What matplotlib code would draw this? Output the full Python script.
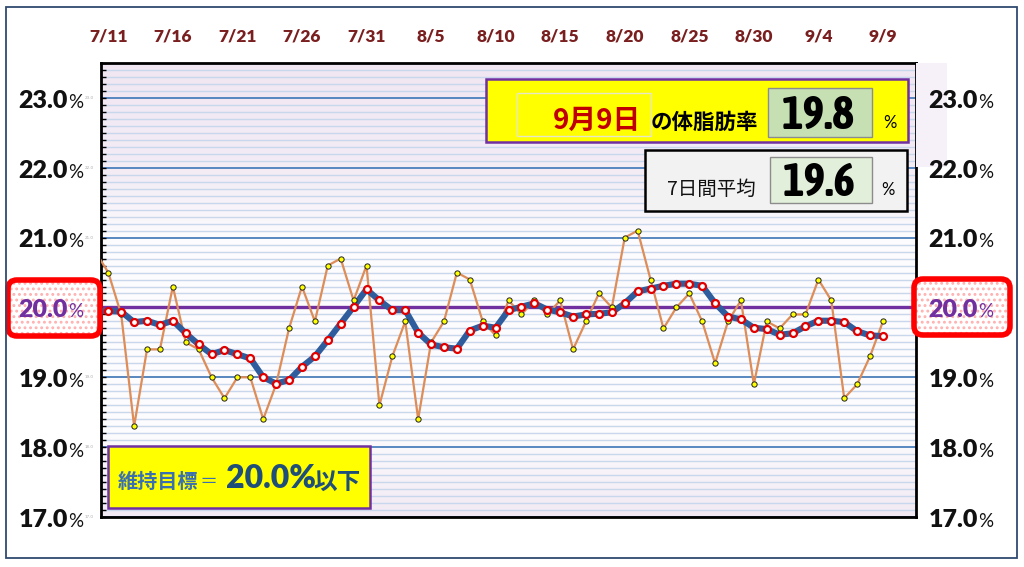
import matplotlib
matplotlib.use('Agg')
import matplotlib.pyplot as plt
import matplotlib.transforms as mtransforms
from matplotlib.patches import Rectangle, FancyBboxPatch
from matplotlib import font_manager as fm
import numpy as np
import pandas as pd

# ---------------- data ----------------
dates = [f"{d.month}/{d.day}" for d in pd.date_range('2023-07-10', '2023-09-09')]
daily = [20.8,
         20.5, 19.9, 18.3, 19.4, 19.4, 20.3, 19.5, 19.4, 19.0, 18.7,
         19.0, 19.0, 18.4, 18.9, 19.7, 20.3, 19.8, 20.6, 20.7, 20.1,
         20.6, 18.6, 19.3, 19.8, 18.4, 19.5, 19.8, 20.5, 20.4, 19.8,
         19.6, 20.1, 19.9, 20.1, 19.9, 20.1, 19.4, 19.8, 20.2, 20.0,
         21.0, 21.1, 20.4, 19.7, 20.0, 20.2, 19.8, 19.2, 19.8, 20.1,
         18.9, 19.8, 19.7, 19.9, 19.9, 20.4, 20.1, 18.7, 18.9, 19.3,
         19.8]
avg7 = [19.95,
        19.95, 19.94, 19.79, 19.81, 19.75, 19.81, 19.63, 19.47, 19.33, 19.39,
        19.33, 19.27, 19.00, 18.91, 18.96, 19.15, 19.30, 19.53, 19.77, 20.01,
        20.26, 20.10, 19.96, 19.96, 19.64, 19.47, 19.43, 19.41, 19.67, 19.74,
        19.71, 19.96, 20.01, 20.06, 19.97, 19.93, 19.87, 19.90, 19.91, 19.93,
        20.06, 20.23, 20.27, 20.31, 20.34, 20.34, 20.31, 20.06, 19.87, 19.83,
        19.71, 19.69, 19.61, 19.63, 19.73, 19.81, 19.81, 19.79, 19.66, 19.60,
        19.59]
tick_labels = ['7/11', '7/16', '7/21', '7/26', '7/31', '8/5', '8/10',
               '8/15', '8/20', '8/25', '8/30', '9/4', '9/9']
y_ticks = [17.0, 18.0, 19.0, 20.0, 21.0, 22.0, 23.0]
target = 20.0
last_date = '9月9日'
last_value = '19.8'
last_avg = '19.6'

# ---------------- fonts ----------------
LAT = ['Lato', 'DejaVu Sans']
CJK = ['Noto Sans CJK JP', 'DejaVu Sans']


def pick_narrow():
    cands = []
    for f in fm.fontManager.ttflist:
        nm = f.name + ' ' + str(f.fname)
        if 'DejaVu' in nm:
            continue
        if 'ExtraCondensed' in nm or 'Extra Condensed' in nm:
            srank = 1
        elif 'SemiCondensed' in nm or 'Semi Condensed' in nm:
            srank = 2
        elif 'Condensed' in nm or 'Narrow' in nm or str(f.stretch) == 'condensed':
            srank = 0
        else:
            continue
        w = f.weight if isinstance(f.weight, (int, float)) else fm.weight_dict.get(f.weight, 400)
        cands.append((f.style != 'normal', 'Mono' in nm, 'Serif' in nm,
                      abs(w - 700), srank, f.fname))
    if cands:
        cands.sort()
        return fm.FontProperties(fname=cands[0][-1])
    return fm.FontProperties(family=['Liberation Sans', 'DejaVu Sans'], weight='bold')


NARROW_FP = pick_narrow()

# ---------------- figure ----------------
W, H = 1024, 567
fig = plt.figure(figsize=(W / 100, H / 100), dpi=100)
fig.patch.set_facecolor('white')
T = fig.dpi_scale_trans
plt.rcParams['hatch.linewidth'] = 1.3
renderer = fig.canvas.get_renderer()


def ix(px):
    return px / 100.0


def iy(py):
    return (H - py) / 100.0


ax = fig.add_axes([101 / W, 1 - 517 / H, (916 - 101) / W, (517 - 63) / H])
x = np.arange(len(daily))
ax.set_xlim(0.435, 63.56)
ax.set_ylim(17.0, 23.5)

# background gradient (lavender top / bottom)
stops_v = [17.0, 18.2, 21.0, 21.8, 23.5]
stops_c = [(0.945, 0.915, 0.955), (0.99, 0.985, 0.993), (0.99, 0.985, 0.993),
           (0.955, 0.93, 0.965), (0.942, 0.905, 0.952)]
vv = np.linspace(17.0, 23.5, 300)
grad = np.stack([np.interp(vv, stops_v, [c[k] for c in stops_c]) for k in range(3)], axis=-1)
ax.imshow(grad[:, None, :], extent=[0.435, 63.56, 17.0, 23.5], origin='lower',
          aspect='auto', zorder=0, interpolation='bilinear')

# gridlines
for v in np.arange(17.0, 23.51, 0.1):
    if abs(v - round(v)) < 1e-6:
        continue
    ax.axhline(v, color='#c8d7ec', lw=1.0, zorder=1)
for v in y_ticks:
    ax.axhline(v, color='#4a7ebb', lw=1.3, zorder=1)
ax.axhline(target, color='#7030a0', lw=2.4, zorder=2)

# series
ax.plot(x, daily, color='#de8c58', lw=1.6, zorder=3, solid_joinstyle='round')
ax.plot(x, avg7, color='#2e5c9c', lw=4.4, zorder=4, solid_joinstyle='round')
ax.plot(x, daily, ls='none', marker='o', ms=3.8, mfc='#ffff00', mec='#222222',
        mew=0.7, zorder=5)
ax.plot(x, avg7, ls='none', marker='o', ms=5.0, mfc='white', mec='#e00000',
        mew=1.6, zorder=6)

# axes styling
tick_pos = [dates.index(t) for t in tick_labels]
ax.set_xticks(tick_pos)
ax.set_xticklabels(tick_labels)
ax.xaxis.set_ticks_position('top')
ax.tick_params(axis='x', length=0, pad=13, labelsize=12.5, labelcolor='#7a1f1f')
for lab in ax.get_xticklabels():
    lab.set_fontfamily(LAT)
    lab.set_fontweight('heavy')
ax.set_yticks(y_ticks)
ax.set_yticks(np.arange(17.0, 23.51, 0.1), minor=True)
ax.yaxis.set_ticks_position('left')
ax.tick_params(axis='y', which='both', direction='in', length=3.5, width=1.0,
               labelleft=False, color='black')
for s in ax.spines.values():
    s.set_color('black')
    s.set_linewidth(2.0)

# lavender patch right of plot
fig.add_artist(Rectangle((ix(916), iy(167)), ix(947) - ix(916), (167 - 63) / 100,
                         transform=T, facecolor='#f6f0f8', edgecolor='none', zorder=0.5))

# y labels on both sides
btr = mtransforms.blended_transform_factory(T, ax.transData)
for v in y_ticks:
    col = '#7030a0' if v == target else '#111111'
    num = f"{v:.1f}"
    if v != target:
        fig.text(ix(94), v, num, transform=btr, ha='right', va='center',
                 fontsize=3, color='#aaaaaa', zorder=2.5)
    fig.text(ix(68), v - 0.14, num, transform=btr, ha='right', va='baseline',
             fontsize=18, fontweight='heavy', family=LAT, color=col, zorder=4)
    fig.text(ix(68.5), v - 0.14, '%', transform=btr, ha='left', va='baseline',
             fontsize=13.5, family=LAT, color=col, zorder=4)
    fig.text(ix(978), v - 0.14, num, transform=btr, ha='right', va='baseline',
             fontsize=18, fontweight='heavy', family=LAT, color=col, zorder=4)
    fig.text(ix(978.5), v - 0.14, '%', transform=btr, ha='left', va='baseline',
             fontsize=13.5, family=LAT, color=col, zorder=4)

# red rounded boxes around target labels
for (x0, y0, x1, y1) in [(8, 280, 100, 336), (914, 279, 1010, 335)]:
    fig.add_artist(FancyBboxPatch((ix(x0), iy(y1)), (x1 - x0) / 100, (y1 - y0) / 100,
                                  boxstyle='round,pad=0,rounding_size=0.09', transform=T,
                                  facecolor='white', edgecolor='#ffb0b0', hatch='...',
                                  lw=0, zorder=2))
    fig.add_artist(FancyBboxPatch((ix(x0), iy(y1)), (x1 - x0) / 100, (y1 - y0) / 100,
                                  boxstyle='round,pad=0,rounding_size=0.09', transform=T,
                                  facecolor='none', edgecolor='#ff0000', lw=4.0, zorder=3))


def box(x0, y0, x1, y1, fc, ec, lw, z=2):
    fig.add_artist(Rectangle((ix(x0), iy(y1)), (x1 - x0) / 100, (y1 - y0) / 100,
                             transform=T, facecolor=fc, edgecolor=ec, lw=lw, zorder=z))


def big_number(xc, yb, s):
    fp = NARROW_FP.copy()
    fp.set_size(33)
    t = fig.text(ix(xc), iy(yb), s, transform=T, ha='center', va='baseline',
                 fontproperties=fp, color='black', zorder=4)
    w = t.get_window_extent(renderer=renderer).width
    if w > 74:
        t.set_fontsize(33 * 74 / w)


# latest value box
box(486, 79, 908, 142, '#ffff00', '#7030a0', 1.8)
box(517, 93, 651, 136, 'none', '#e6e6c8', 1.0, 2.1)
box(768, 88, 872, 137, '#c6e0b4', '#8c8c8c', 1.0, 2.1)
fig.text(ix(553), iy(129), last_date, transform=T, ha='left', va='baseline',
         fontsize=20, fontweight='bold', family=CJK, color='#c00000', zorder=4)
fig.text(ix(651), iy(129), 'の体脂肪率', transform=T, ha='left', va='baseline',
         fontsize=15.5, fontweight='bold', family=CJK, color='black', zorder=4)
big_number(818, 129, last_value)
fig.text(ix(890), iy(128), '%', transform=T, ha='center', va='baseline',
         fontsize=12, family=LAT, color='black', zorder=4)

# 7-day average box
box(645, 150, 907, 211, '#f2f2f2', 'black', 1.8)
box(770, 157, 872, 203, '#e2efda', '#8c8c8c', 1.0, 2.1)
fig.text(ix(667), iy(195), '7日間平均', transform=T, ha='left', va='baseline',
         fontsize=14, family=CJK, color='#111111', zorder=4)
big_number(819, 196, last_avg)
fig.text(ix(888), iy(195), '%', transform=T, ha='center', va='baseline',
         fontsize=12, family=LAT, color='black', zorder=4)

# target box
box(108, 446, 370, 508, '#ffff00', '#7030a0', 1.8)
fig.text(ix(118), iy(488), '維持目標', transform=T, ha='left', va='baseline',
         fontsize=14.5, fontweight='bold', family=CJK, color='#3a70ad', zorder=4)
fig.text(ix(209), iy(487), '＝', transform=T, ha='center', va='baseline',
         fontsize=13, family=CJK, color='#3a70ad', zorder=4)
fig.text(ix(226), iy(488), f"{target:.1f}%", transform=T, ha='left', va='baseline',
         fontsize=23, fontweight='heavy', family=LAT, color='#1f4e79', zorder=4)
fig.text(ix(313), iy(489), '以下', transform=T, ha='left', va='baseline',
         fontsize=17, fontweight='bold', family=CJK, color='#1f4e79', zorder=4)

# outer frame
fig.add_artist(Rectangle((ix(6), iy(558)), (1017 - 6) / 100, (558 - 7) / 100,
                         transform=T, facecolor='none', edgecolor='#2f4a6f', lw=1.3,
                         zorder=5))

fig.savefig('out.png', dpi=100)
